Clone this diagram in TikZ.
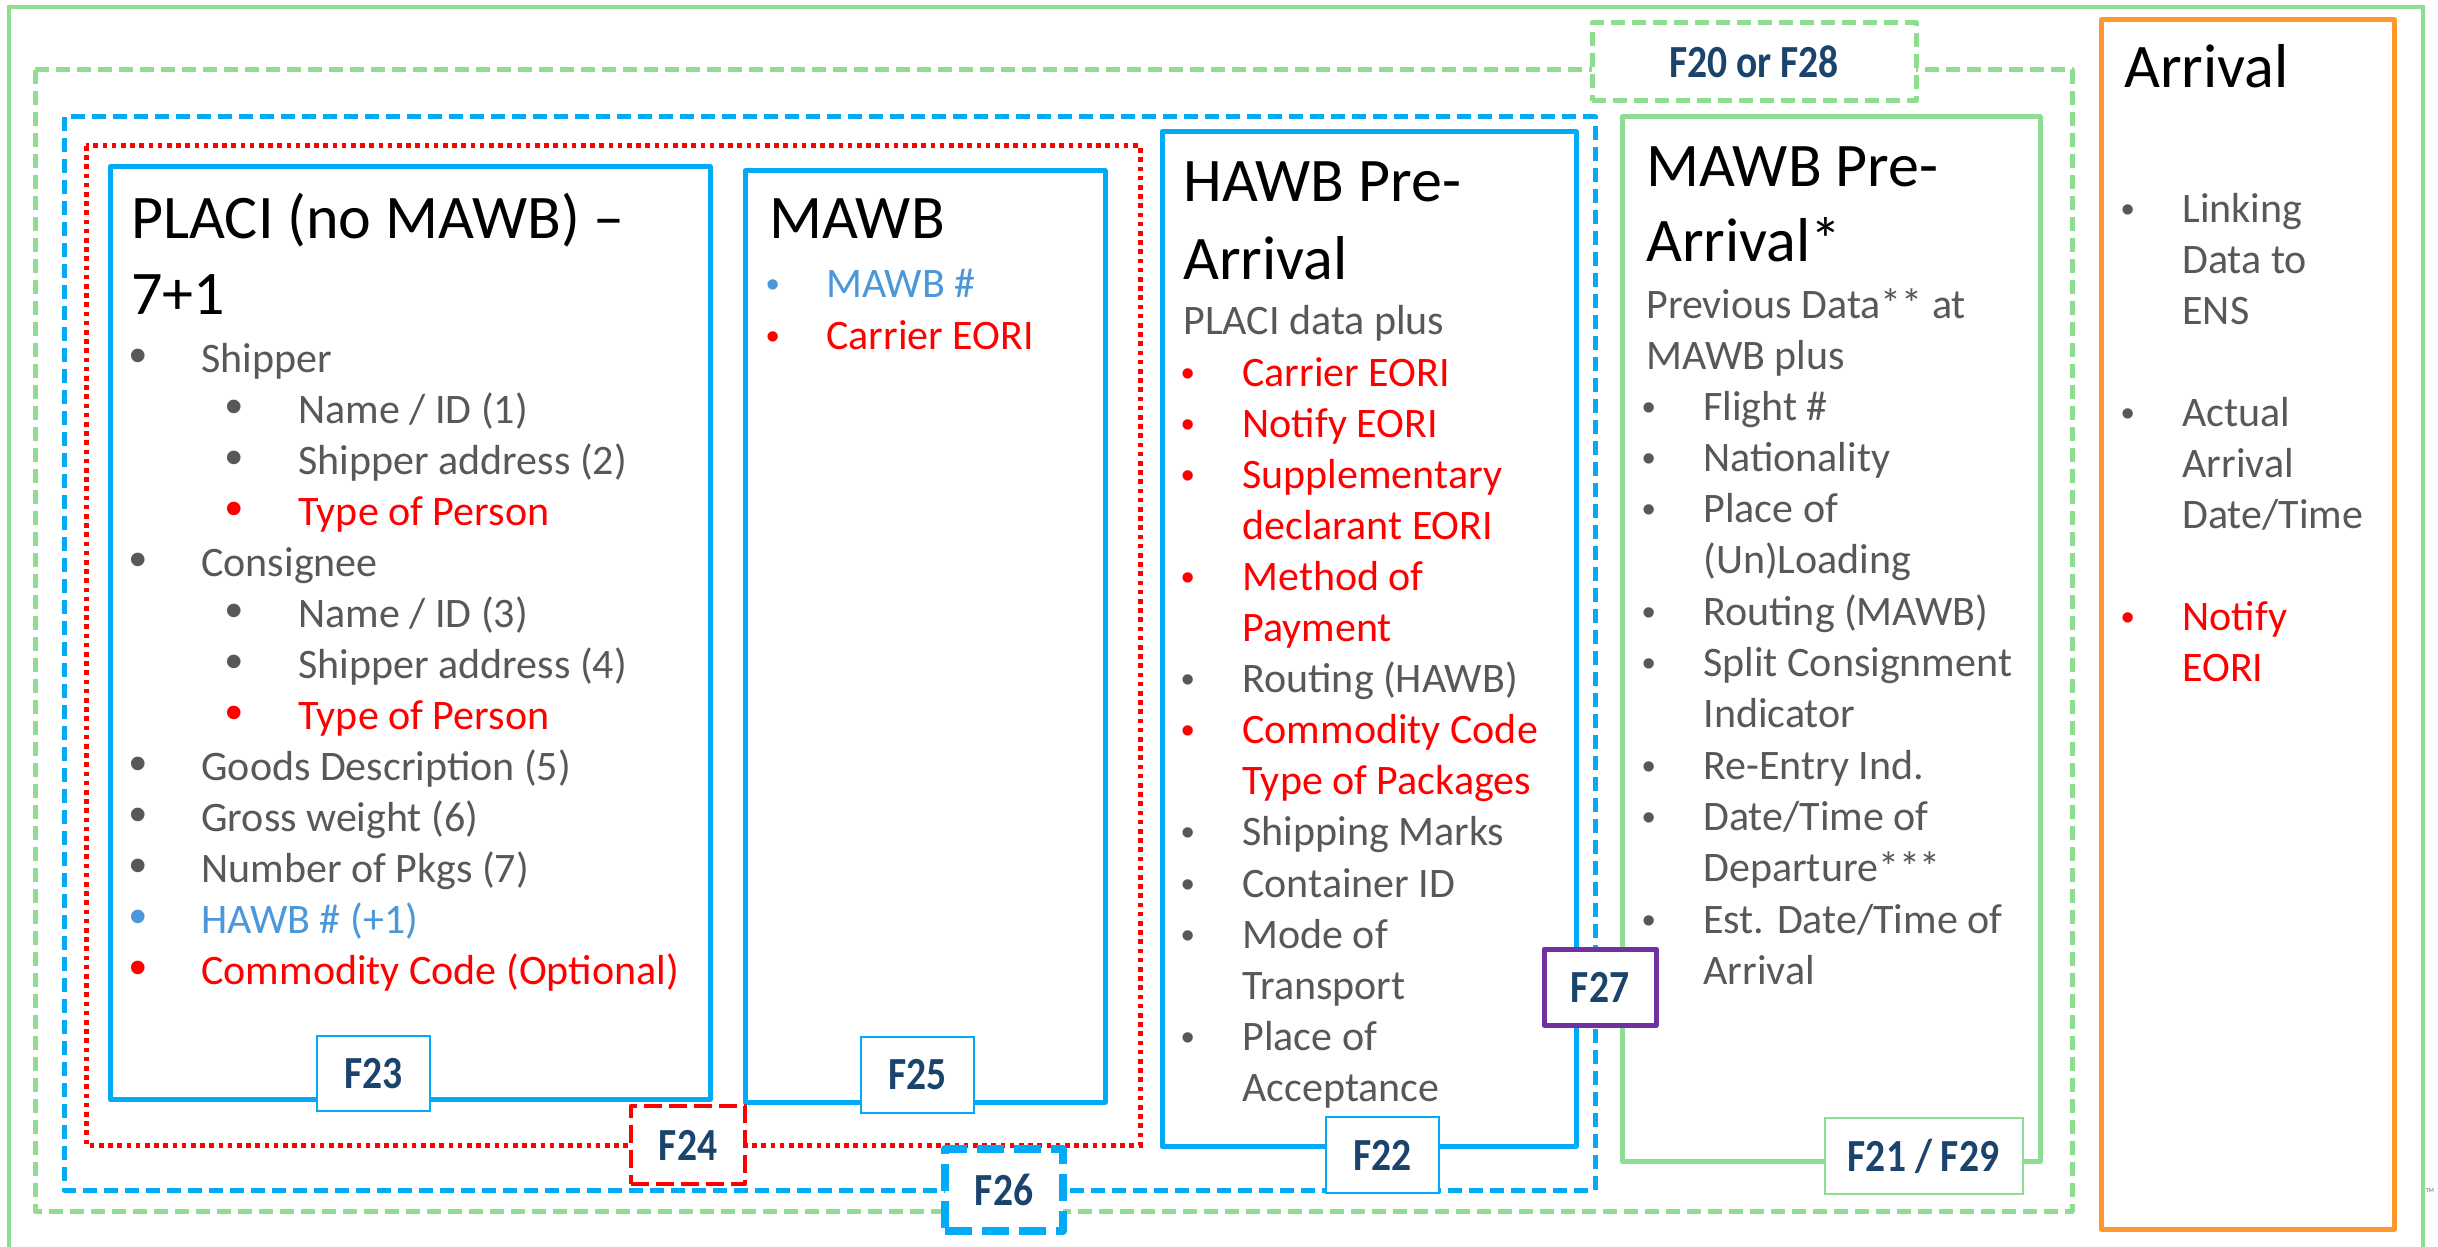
\documentclass[tikz,border=0pt]{standalone}
\usepackage{fontspec}
\setmainfont{Carlito}
\newfontfamily\bulfont{Liberation Sans}
\definecolor{gline}{RGB}{142,221,144}
\definecolor{bline}{RGB}{0,170,245}
\definecolor{oline}{RGB}{255,153,45}
\definecolor{pline}{RGB}{112,48,160}
\definecolor{navy}{RGB}{27,68,108}
\definecolor{tg}{RGB}{88,88,88}
\definecolor{tr}{RGB}{255,0,0}
\definecolor{tb}{RGB}{74,152,218}
\definecolor{tk}{RGB}{0,0,0}
\tikzset{
  body/.style={anchor=base west, inner sep=0pt, font=\fontsize{21}{25}\selectfont},
  ttl/.style={anchor=base west, inner sep=0pt, text=black, font=\fontsize{31}{37}\selectfont},
  bigbul/.style={anchor=base, inner sep=0pt, font=\bulfont\fontsize{25}{25}\selectfont},
  smbul/.style={anchor=base, inner sep=0pt, font=\bulfont\fontsize{19}{19}\selectfont},
  lab/.style={inner sep=0pt, fill=white, text=navy, font=\bfseries\fontsize{23}{28}\selectfont},
  solidbox/.style={line width=2.5pt, line join=round},
  dashbox/.style={line width=2.5pt, dash pattern=on 7pt off 3.5pt, line join=round},
}
\newcommand\lb[1]{\scalebox{0.86}[1]{#1}}
\begin{document}
\begin{tikzpicture}[x=0.5pt,y=-0.5pt]
\useasboundingbox (0,0) rectangle (2438,1247);
\fill[white] (0,0) rectangle (2438,1247);
% outer frames
\draw[gline, line width=2.2pt] (9,1270) -- (9,7) -- (2423,7) -- (2423,1270);
\draw[gline, dashbox] (35,70) rectangle (2072,1211);
\draw[bline, dashbox] (64,117) rectangle (1595,1190);
\draw[tr, line width=2.5pt, dash pattern=on 2.3pt off 2.3pt] (86,146) rectangle (1140,1145);
% main boxes
\draw[bline, solidbox] (110,167) rectangle (710,1099);
\draw[bline, solidbox] (745,171) rectangle (1105,1102);
\draw[bline, solidbox] (1162,132) rectangle (1576,1146);
\draw[gline, solidbox] (1622,117) rectangle (2040,1161);
\draw[oline, solidbox] (2101,20) rectangle (2394,1229);

% PLACI
\node[ttl] (t1a) at (131,238) {PLACI (no MAWB) –};
\node[ttl] (t1b) at (131,314) {7+1};
\foreach \l/\c/\t [count=\i from 0] in {1/tg/Shipper, 2/tg/{Name / ID (1)}, 2/tg/{Shipper address (2)}, 2/tr/{Type of Person}, 1/tg/Consignee, 2/tg/{Name / ID (3)}, 2/tg/{Shipper address (4)}, 2/tr/{Type of Person}, 1/tg/{Goods Description (5)}, 1/tg/{Gross weight (6)}, 1/tg/{Number of Pkgs (7)}, 1/tb/{HAWB \# (+1)}, 1/tr/{Commodity Code (Optional)}} {
  \pgfmathsetmacro\yy{372+51*\i}
  \ifnum\l=1
    \node[bigbul, text=\c] (pb\i) at (138,\yy) {•};
    \node[body, text=\c] (p\i) at (201,\yy) {\t};
  \else
    \node[bigbul, text=\c] (pb\i) at (234,\yy) {•};
    \node[body, text=\c] (p\i) at (298,\yy) {\t};
  \fi
}

% MAWB
\node[ttl] (t2) at (769,238) {MAWB};
\node[smbul, text=tb] (mb0) at (773,297) {•};
\node[body, text=tb] (m0) at (826,297) {MAWB \#};
\node[smbul, text=tr] (mb1) at (773,349) {•};
\node[body, text=tr] (m1) at (826,349) {Carrier EORI};

% HAWB Pre-Arrival
\node[ttl] (t3a) at (1183,202) {HAWB Pre-};
\node[ttl] (t3b) at (1183,279) {Arrival};
\node[body, text=tg] (h00) at (1183,334) {PLACI data plus};
\foreach \b/\c/\t [count=\i from 0] in {1/tr/{Carrier EORI}, 1/tr/{Notify EORI}, 1/tr/Supplementary, 0/tr/{declarant EORI}, 1/tr/{Method of}, 0/tr/Payment, 1/tg/{Routing (HAWB)}, 1/tr/{Commodity Code}, 0/tr/{Type of Packages}, 1/tg/{Shipping Marks}, 1/tg/{Container ID}, 1/tg/{Mode of}, 0/tg/Transport, 1/tg/{Place of}, 0/tg/Acceptance} {
  \pgfmathsetmacro\yy{386+51.1*\i}
  \node[body, text=\c] (h\i) at (1242,\yy) {\t};
  \ifnum\b=1 \node[smbul, text=\c] (hb\i) at (1188,\yy) {•}; \fi
}

% MAWB Pre-Arrival
\node[ttl] (t4a) at (1646,186) {MAWB Pre-};
\node[ttl] (t4b) at (1646,262) {Arrival*};
\node[body, text=tg] (q00) at (1646,318) {Previous Data** at};
\node[body, text=tg] (q01) at (1646,369) {MAWB plus};
\foreach \b/\t [count=\i from 0] in {1/{Flight \#}, 1/Nationality, 1/{Place of}, 0/(Un)Loading, 1/{Routing (MAWB)}, 1/{Split Consignment}, 0/Indicator, 1/{Re-Entry Ind.}, 1/{Date/Time of}, 0/{Departure***}, 1/{Est. Date/Time of}, 0/Arrival} {
  \pgfmathsetmacro\yy{420+51.3*\i}
  \node[body, text=tg] (q\i) at (1703,\yy) {\t};
  \ifnum\b=1 \node[smbul, text=tg] (qb\i) at (1649,\yy) {•}; \fi
}

% Arrival
\node[ttl] (t5) at (2124,88) {Arrival};
\foreach \b/\c/\k/\t [count=\i from 0] in {1/tg/0/Linking, 0/tg/1/{Data to}, 0/tg/2/ENS, 1/tg/4/Actual, 0/tg/5/Arrival, 0/tg/6/{Date/Time}, 1/tr/8/Notify, 0/tr/9/EORI} {
  \pgfmathsetmacro\yy{222+51*\k}
  \node[body, text=\c] (a\i) at (2182,\yy) {\t};
  \ifnum\b=1 \node[smbul, text=\c] (ab\i) at (2128,\yy) {•}; \fi
}

% labels
\node[lab, draw=gline, dashbox, minimum width=162pt, minimum height=39pt] (f20) at (1754,62) {\lb{F20 or F28}};
\node[lab, draw=bline, line width=1pt, minimum width=56.5pt, minimum height=37.5pt] (f23) at (373.5,1073.5) {\lb{F23}};
\node[lab, draw=bline, line width=1pt, minimum width=56.5pt, minimum height=38pt] (f25) at (917.5,1075) {\lb{F25}};
\node[lab, draw=tr, line width=2.2pt, dash pattern=on 9pt off 3.5pt, line join=round, minimum width=57pt, minimum height=39pt] (f24) at (688,1145) {\lb{F24}};
\node[lab, draw=bline, line width=4pt, dash pattern=on 13.5pt off 5pt, line join=round, minimum width=59pt, minimum height=41pt] (f26) at (1004,1190) {\lb{F26}};
\node[lab, draw=bline, line width=1pt, minimum width=56.5pt, minimum height=38pt] (f22) at (1382.5,1155) {\lb{F22}};
\node[lab, draw=pline, line width=2.5pt, line join=round, minimum width=56pt, minimum height=38pt] (f27) at (1600,987) {\lb{F27}};
\node[lab, draw=gline, line width=1pt, minimum width=99pt, minimum height=38pt] (f21) at (1923.5,1156) {\lb{F21 / F29}};
\node[inner sep=0pt, text=tg, font=\fontsize{3}{3}\selectfont] (tm) at (2430,1191) {TM};
\end{tikzpicture}
\end{document}
